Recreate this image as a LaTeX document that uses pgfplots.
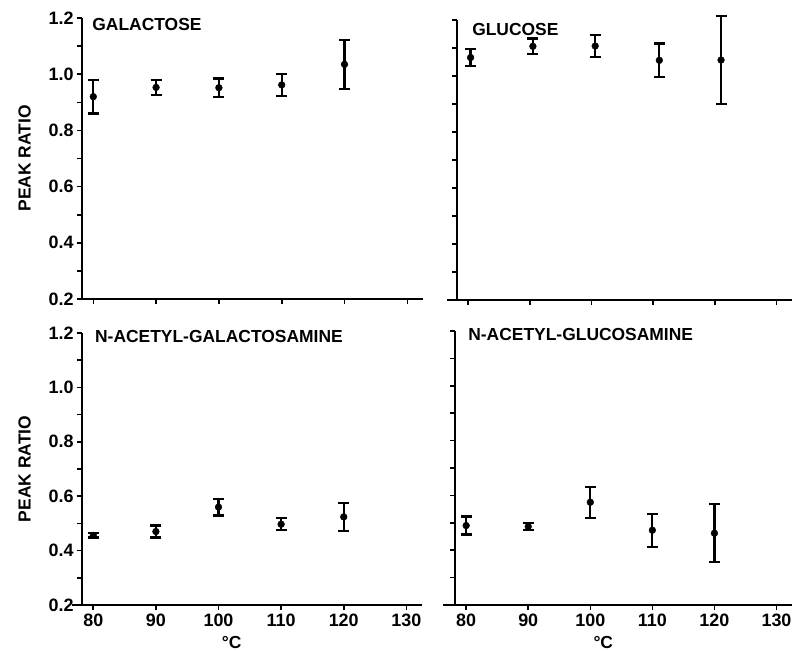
\documentclass[border=0pt]{standalone}
\usepackage{pgfplots}
\usepackage{pgfplotstable}
\pgfplotsset{compat=1.18}
\usepackage{fontspec}
\setmainfont{Liberation Sans}

\pgfplotstableread{
x y e
80 0.920 0.060
90 0.953 0.026
100 0.952 0.033
110 0.962 0.040
120 1.035 0.088
}\galact
\pgfplotstableread{
x y e
80.4 1.066 0.030
90.5 1.106 0.028
100.6 1.107 0.039
111.0 1.056 0.060
121.0 1.057 0.158
}\gluc
\pgfplotstableread{
x y e
80 0.456 0.008
90 0.470 0.022
100 0.560 0.031
110 0.497 0.022
120 0.524 0.052
}\nagal
\pgfplotstableread{
x y e
80 0.490 0.033
90 0.486 0.012
100 0.575 0.057
110 0.473 0.060
120 0.462 0.106
}\nagluc

\pgfplotsset{
  panel/.style={
    scale only axis, clip=false,
    xmin=78.2, xmax=132.5, ymin=0.2, ymax=1.2,
    axis lines=left, axis line style={-, line width=2.4bp},
    xtick={80,90,100,110,120,130},
    ytick={0.2,0.4,0.6,0.8,1.0,1.2},
    minor ytick={0.3,0.5,0.7,0.9,1.1},
    tick align=outside, major tick length=5bp, minor tick length=5bp,
    every tick/.style={line width=1.6bp, black},
    every minor tick/.style={line width=1.6bp, black},
    tick label style={font=\fontsize{18}{18}\selectfont\bfseries},
    xticklabels={80,90,100,110,120,130},
    yticklabels={0.2,0.4,0.6,0.8,1.0,1.2},
    ylabel style={font=\fontsize{17.5}{17.5}\selectfont\bfseries},
    ylabel shift=11bp,
  },
  noxl/.style={xticklabels={}},
  noyl/.style={yticklabels={}},
  pts/.style={black, only marks, mark=*, mark size=3.4bp,
    error bars/.cd, y dir=both, y explicit, error mark=|,
    error bar style={line width=2.2bp, black},
    error mark options={mark size=5.5bp, line width=2.2bp, black}},
}
\newcommand{\ttl}{\fontsize{17.5}{17.5}\selectfont\bfseries}

\begin{document}
\begin{tikzpicture}
\useasboundingbox (0,0) rectangle (792bp,-651bp);

% top left
\begin{axis}[panel, noxl, at={(82bp,-299bp)}, anchor=south west,
  width=341bp, height=281bp, ylabel={PEAK RATIO}]
\addplot[pts] table[x=x,y=y,y error=e]{\galact};
\node[anchor=north west, inner sep=0pt, font=\ttl] at (rel axis cs:0.03,1) {GALACTOSE};
\end{axis}

% top right
\begin{axis}[panel, noxl, noyl, at={(457bp,-300bp)}, anchor=south west,
  width=335bp, height=280bp]
\addplot[pts] table[x=x,y=y,y error=e]{\gluc};
\draw[line width=2.4bp] (rel axis cs:-0.03,0) -- (rel axis cs:0,0);
\node[anchor=north west, inner sep=0pt, font=\ttl] at (rel axis cs:0.045,0.99) {GLUCOSE};
\end{axis}

% bottom left
\begin{axis}[panel, at={(82bp,-605bp)}, anchor=south west,
  width=340bp, height=272bp, ylabel={PEAK RATIO}]
\addplot[pts] table[x=x,y=y,y error=e]{\nagal};
\draw[line width=2.4bp] (rel axis cs:-0.03,0) -- (rel axis cs:0,0);
\node[anchor=north west, inner sep=0pt, font=\ttl] at (rel axis cs:0.038,1.01) {N-ACETYL-GALACTOSAMINE};
\node[font=\ttl, anchor=south, inner sep=0pt] at (rel axis cs:0.44,0) [yshift=-44bp] {°C};
\end{axis}

% bottom right
\begin{axis}[panel, noyl, at={(455bp,-605bp)}, anchor=south west,
  width=337bp, height=274bp]
\addplot[pts] table[x=x,y=y,y error=e]{\nagluc};
\draw[line width=2.4bp] (rel axis cs:-0.035,0) -- (rel axis cs:0,0);
\node[anchor=north west, inner sep=0pt, font=\ttl] at (rel axis cs:0.039,1.01) {N-ACETYL-GLUCOSAMINE};
\node[font=\ttl, anchor=south, inner sep=0pt] at (rel axis cs:0.44,0) [yshift=-44bp] {°C};
\end{axis}
\end{tikzpicture}
\end{document}
